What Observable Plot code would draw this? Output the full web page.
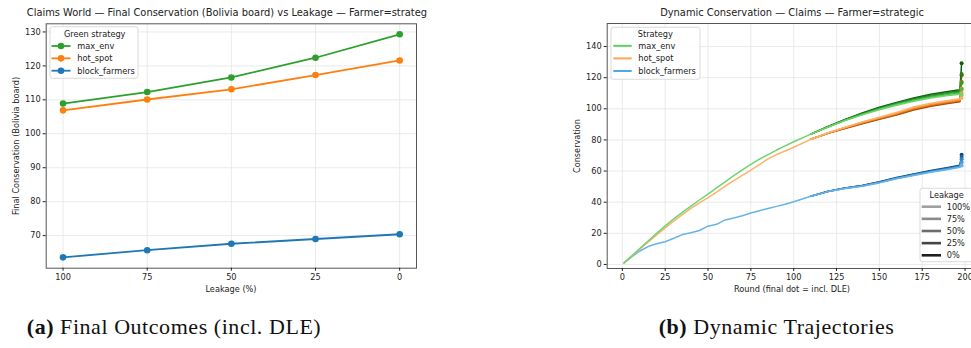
<!DOCTYPE html>
<html><head><meta charset="utf-8">
<script src="https://cdn.jsdelivr.net/npm/d3@7"></script>
<script src="https://cdn.jsdelivr.net/npm/@observablehq/plot@0.6"></script>
<style>
body{margin:0;background:#fff;}
#fig{position:relative;width:971px;height:348px;overflow:hidden;font-family:"DejaVu Sans",sans-serif;color:#222;}
.abs{position:absolute;white-space:nowrap;line-height:1;}
.ttl{font-size:9.9px;transform:translate(-50%,-50%);}
.lab{font-size:8.2px;transform:translate(-50%,-50%);}
.ylab{font-size:8.2px;transform:translate(-50%,-50%) rotate(-90deg);}
.cap{font-family:"Liberation Serif",serif;font-size:22px;transform:translate(-50%,-50%);letter-spacing:0.55px;color:#111;}
.cap b{font-weight:bold;}
svg{overflow:visible;}
</style></head><body><div id="fig"></div>
<script>
// ---------- data ----------
const strategies = ["max_env", "hot_spot", "block_farmers"];
const leakages = [100, 75, 50, 25, 0];
const leakLabels = ["100%", "75%", "50%", "25%", "0%"];

// (a) final conservation (incl. DLE) by leakage
const maxEnvFinal = [108.9, 112.3, 116.6, 122.4, 129.3];
const hotSpotFinal = [106.9, 110.1, 113.1, 117.3, 121.6];
const blockFinal = [63.6, 65.7, 67.6, 69.0, 70.4];

// (b) trajectories: shared early part, per-leakage late part (rows: 100%,75%,50%,25%,0%)
const earlyRounds = [1, 5, 10, 15, 20, 25, 30, 35, 40, 45, 50, 55, 60, 65, 70, 75, 80, 85, 90, 95, 100, 110];
const maxEnvEarly = [1.0, 5.0, 10.1, 15.1, 20.0, 24.8, 29.3, 33.5, 37.5, 41.4, 45.2, 49.2, 53.1, 57.0, 60.8, 64.3, 67.6, 70.6, 73.5, 76.2, 78.8, 83.7];
const hotSpotEarly = [1.0, 4.8, 9.6, 14.3, 18.9, 23.5, 27.9, 32.0, 36.0, 39.6, 42.9, 46.5, 50.3, 53.8, 57.2, 60.6, 64.2, 67.8, 70.6, 72.9, 75.3, 80.4];
const blockEarly = [1.0, 4.5, 8.5, 11.5, 13.3, 14.6, 16.8, 19.2, 20.4, 21.8, 24.6, 25.8, 28.6, 29.8, 31.3, 33.0, 34.5, 36.0, 37.3, 38.7, 40.3, 43.8];
const lateRounds = [120, 130, 140, 150, 160, 170, 180, 190, 197];
const maxEnvLate = [
  [88.2, 92.4, 96.1, 99.4, 102.3, 104.8, 106.9, 108.5, 109.4],
  [88.3, 92.6, 96.4, 99.8, 102.8, 105.3, 107.5, 109.2, 110.1],
  [88.4, 92.8, 96.7, 100.2, 103.2, 105.8, 108.1, 109.8, 110.8],
  [88.5, 93.0, 97.0, 100.6, 103.7, 106.4, 108.7, 110.5, 111.5],
  [88.6, 93.2, 97.3, 101.0, 104.1, 106.9, 109.3, 111.1, 112.2]
];
const hotSpotLate = [
  [84.6, 88.2, 91.6, 94.6, 97.6, 101.2, 103.6, 105.4, 106.5],
  [84.5, 88.0, 91.3, 94.3, 97.2, 100.7, 103.1, 104.9, 106.0],
  [84.4, 87.8, 91.0, 94.0, 96.8, 100.2, 102.6, 104.4, 105.5],
  [84.3, 87.6, 90.7, 93.6, 96.4, 99.7, 102.1, 103.9, 105.0],
  [84.2, 87.4, 90.4, 93.3, 96.0, 99.2, 101.6, 103.4, 104.5]
];
const blockLate = [
  [46.8, 48.8, 50.3, 52.4, 55.0, 57.2, 59.2, 61.0, 62.4],
  [46.8, 48.9, 50.4, 52.6, 55.2, 57.4, 59.5, 61.3, 62.7],
  [46.9, 49.0, 50.6, 52.8, 55.4, 57.7, 59.8, 61.7, 63.0],
  [46.9, 49.1, 50.7, 53.0, 55.6, 57.9, 60.1, 62.0, 63.4],
  [47.0, 49.2, 50.8, 53.1, 55.8, 58.2, 60.4, 62.3, 63.7]
];
const finalRound = 198;

// ticks
const xTicksA = [100, 75, 50, 25, 0];
const yTicksA = [70, 80, 90, 100, 110, 120, 130];
const xTicksB = [0, 25, 50, 75, 100, 125, 150, 175, 200];
const yTicksB = [0, 20, 40, 60, 80, 100, 120, 140];

// colours
const colorsA = ["#2ca02c", "#ff7f0e", "#1f77b4"];
const shadesB = {
  max_env: ["#6fd46f", "#4cbb4c", "#2fa02f", "#1c821c", "#0b5e0b"],
  hot_spot: ["#ffb06a", "#fd9a3c", "#ec7f17", "#c9630a", "#9a4606"],
  block_farmers: ["#67b3e8", "#4a9dd8", "#2e82c0", "#1a66a0", "#0b4a7a"]
};
const legendColorsB = ["#5ecf5e", "#ffa552", "#52a8e2"];
const leakGrays = ["#a0a0a0", "#8a8a8a", "#6c6c6c", "#444444", "#1e1e1e"];

// ---------- build tables ----------
const finals = {max_env: maxEnvFinal, hot_spot: hotSpotFinal, block_farmers: blockFinal};
const earlies = {max_env: maxEnvEarly, hot_spot: hotSpotEarly, block_farmers: blockEarly};
const lates = {max_env: maxEnvLate, hot_spot: hotSpotLate, block_farmers: blockLate};

const rowsA = [];
strategies.forEach(s => leakages.forEach((l, i) => rowsA.push({strategy: s, leakage: l, value: finals[s][i]})));

// darker (lower-leakage) runs coincide with the 100% run early on; only their visible part is drawn
const rowsB = [];
const dotsB = [];
for (let k = leakages.length - 1; k >= 0; k--) {
  for (const s of ["block_farmers", "hot_spot", "max_env"]) {
    const key = s + "|" + leakages[k];
    earlyRounds.forEach((r, i) => { if (k === 0 || r >= 110) rowsB.push({key, round: r, value: earlies[s][i]}); });
    lateRounds.forEach((r, i) => rowsB.push({key, round: r, value: lates[s][k][i]}));
    rowsB.push({key, round: finalRound, value: finals[s][k]});
    dotsB.push({key, round: finalRound, value: finals[s][k]});
  }
}
const keyDomain = [], keyRange = [];
strategies.forEach(s => leakages.forEach((l, i) => { keyDomain.push(s + "|" + l); keyRange.push(shadesB[s][i]); }));

const fig = document.getElementById("fig");
function addDiv(cls, html, x, y, parent) {
  const d = document.createElement("div");
  d.className = "abs " + cls; d.innerHTML = html;
  d.style.left = x + "px"; d.style.top = y + "px";
  (parent || fig).appendChild(d); return d;
}
const axisStyle = {fontFamily: "DejaVu Sans", fontSize: "8.2px", color: "#222", background: "transparent", overflow: "visible", maxWidth: "none"};
const gridOpt = {stroke: "#e4e4e4", strokeOpacity: 1, strokeWidth: 0.8};

// ---------- (a) ----------
const plotA = Plot.plot({
  width: 430, height: 300,
  marginLeft: 45.7, marginRight: 14, marginTop: 23.3, marginBottom: 32.3,
  style: axisStyle,
  x: {domain: [105, -5], axis: null},
  y: {domain: [60.4, 132.4], axis: null},
  color: {domain: strategies, range: colorsA},
  marks: [
    Plot.gridX(xTicksA, gridOpt),
    Plot.gridY(yTicksA, gridOpt),
    Plot.line(rowsA, {x: "leakage", y: "value", z: "strategy", stroke: "strategy", strokeWidth: 1.8}),
    Plot.dot(rowsA, {x: "leakage", y: "value", fill: "strategy", r: 3.3}),
    Plot.frame({stroke: "#555", strokeWidth: 1}),
    Plot.axisX(xTicksA, {anchor: "bottom", tickSize: 3, tickPadding: 2.5, label: null, tickFormat: d => d}),
    Plot.axisY(yTicksA, {anchor: "left", tickSize: 3, tickPadding: 2.5, label: null, tickFormat: d => d})
  ]
});
const wrapA = document.createElement("div");
wrapA.style.cssText = "position:absolute;left:0;top:0;width:430px;height:300px;";
wrapA.appendChild(plotA); fig.appendChild(wrapA);

// ---------- (b) ----------
const offB = 560;
const plotB = Plot.plot({
  width: 430, height: 300,
  marginLeft: 46.7, marginRight: 12, marginTop: 23, marginBottom: 32,
  style: axisStyle,
  x: {domain: [-8.85, 207.85], axis: null},
  y: {domain: [-2.6, 154.8], axis: null},
  color: {domain: keyDomain, range: keyRange},
  marks: [
    Plot.gridX(xTicksB, gridOpt),
    Plot.gridY(yTicksB, gridOpt),
    Plot.line(rowsB, {x: "round", y: "value", z: "key", stroke: "key", strokeWidth: 1.5}),
    Plot.dot(dotsB, {x: "round", y: "value", fill: "key", r: 2}),
    Plot.frame({stroke: "#555", strokeWidth: 1}),
    Plot.axisX(xTicksB, {anchor: "bottom", tickSize: 3, tickPadding: 2.5, label: null, tickFormat: d => d}),
    Plot.axisY(yTicksB, {anchor: "left", tickSize: 3, tickPadding: 2.5, label: null, tickFormat: d => d})
  ]
});
const wrapB = document.createElement("div");
wrapB.style.cssText = "position:absolute;left:" + offB + "px;top:0;width:430px;height:300px;";
wrapB.appendChild(plotB); fig.appendChild(wrapB);

// ---------- legends ----------
function legend(svgNode, o) {
  const g = d3.select(svgNode).append("g").attr("font-family", "DejaVu Sans").attr("font-size", 8.2)
    .attr("fill", "#222").attr("text-anchor", "start");
  g.append("rect").attr("x", o.x).attr("y", o.y).attr("width", o.w).attr("height", o.h).attr("rx", 2.5)
    .attr("fill", "#fff").attr("fill-opacity", 0.85).attr("stroke", "#d2d2d2").attr("stroke-width", 0.8);
  g.append("text").attr("x", o.titleX).attr("y", o.titleY).attr("text-anchor", "middle").attr("dy", "0.35em").text(o.title);
  o.labels.forEach((t, i) => {
    const y = o.rowY0 + i * o.rowStep;
    g.append("line").attr("x1", o.lx1).attr("x2", o.lx2).attr("y1", y).attr("y2", y)
      .attr("stroke", o.colors[i]).attr("stroke-width", o.lw);
    if (o.marker) g.append("circle").attr("cx", (o.lx1 + o.lx2) / 2).attr("cy", y).attr("r", 3.3).attr("fill", o.colors[i]);
    g.append("text").attr("x", o.tx).attr("y", y).attr("dy", "0.35em").attr("text-anchor", "start").text(t);
  });
}
legend(plotA, {x: 50, y: 26.7, w: 88, h: 51.6, title: "Green strategy", titleX: 94.7, titleY: 34,
  labels: strategies, colors: colorsA, rowY0: 46, rowStep: 12.35, lx1: 51.5, lx2: 70.5, tx: 77.3, lw: 1.8, marker: true});
legend(plotB, {x: 611 - offB, y: 27.3, w: 89, h: 52, title: "Strategy", titleX: 655.3 - offB, titleY: 34,
  labels: strategies, colors: legendColorsB, rowY0: 45.8, rowStep: 12.6, lx1: 613.3 - offB, lx2: 631.7 - offB, tx: 638.3 - offB, lw: 2, marker: false});
legend(plotB, {x: 920 - offB, y: 188.3, w: 54, h: 73.4, title: "Leakage", titleX: 946.7 - offB, titleY: 195,
  labels: leakLabels, colors: leakGrays, rowY0: 206.7, rowStep: 12.15, lx1: 921.7 - offB, lx2: 941 - offB, tx: 946.7 - offB, lw: 2.6, marker: false});

// ---------- text ----------
const clipA = document.createElement("div");
clipA.style.cssText = "position:absolute;left:0;top:0;width:427px;height:30px;overflow:hidden;";
fig.appendChild(clipA);
addDiv("ttl", "Claims World — Final Conservation (Bolivia board) vs Leakage — Farmer=strategic", 231, 13, clipA);
addDiv("ttl", "Dynamic Conservation — Claims — Farmer=strategic", 792, 13);
addDiv("lab", "Leakage (%)", 231, 289);
addDiv("lab", "Round (final dot = incl. DLE)", 792, 289);
addDiv("ylab", "Final Conservation (Bolivia board)", 16.3, 145.5);
addDiv("ylab", "Conservation", 577, 145.5);
addDiv("cap", "<b>(a)</b> Final Outcomes (incl. DLE)", 174, 327);
addDiv("cap", "<b>(b)</b> Dynamic Trajectories", 776.5, 327);
</script></body></html>
